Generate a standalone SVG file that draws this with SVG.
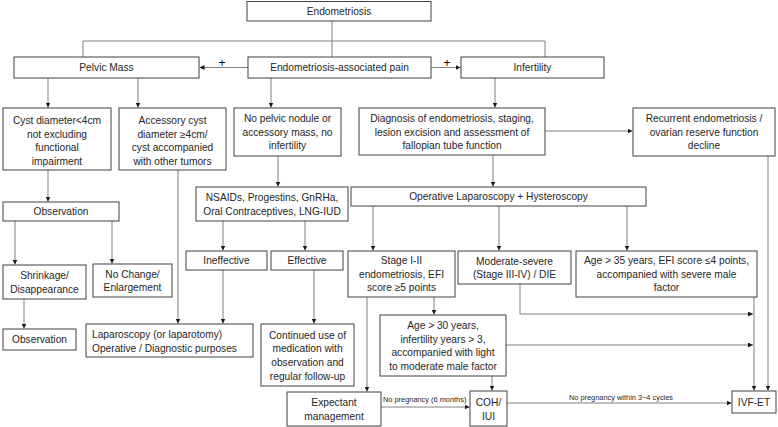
<svg xmlns="http://www.w3.org/2000/svg" width="778" height="427" viewBox="0 0 778 427">
<defs>
<marker id="ah" viewBox="0 0 8 8" refX="8" refY="4" markerWidth="5" markerHeight="5" markerUnits="userSpaceOnUse" orient="auto">
<path d="M0,0 L8,4 L0,8 Z" fill="#1a1a1a"/>
</marker>
<style>
.b{fill:#fff;stroke:#404040;stroke-width:1}
.t{font-family:"Liberation Sans",Arial,sans-serif;font-size:10.2px;fill:#262626;text-anchor:middle}
.l{text-anchor:start}
.p{font-family:"Liberation Sans",Arial,sans-serif;font-size:12px;fill:#000;text-anchor:middle}
.s{font-family:"Liberation Sans",Arial,sans-serif;font-size:7.4px;fill:#262626}
.c{fill:none;stroke:#808080;stroke-width:1}
.a{marker-end:url(#ah)}
</style>
</defs>
<rect width="778" height="427" fill="#fff"/>
<g id="connectors">
<path class="c" d="M332,21 V57"/>
<path class="c" d="M83,57 V41 H545 V57"/>
<path class="c a" d="M248,67.5 H199.5"/>
<path class="c a" d="M431,67.5 H460.5"/>
<path class="c a" d="M48,78 V107.5"/>
<path class="c a" d="M138,78 V107.5"/>
<path class="c a" d="M271,78 V107.5"/>
<path class="c a" d="M495,78 V107.5"/>
<path class="c a" d="M545,131 H632.5"/>
<path class="c a" d="M48,170 V201.5"/>
<path class="c a" d="M178,170 V323.5"/>
<path class="c a" d="M278,156 V186.5"/>
<path class="c a" d="M493,155 V186.5"/>
<path class="c a" d="M15,221 V264.5"/>
<path class="c a" d="M112,221 V263.5"/>
<path class="c a" d="M223,221 V250.5"/>
<path class="c a" d="M305,221 V250.5"/>
<path class="c a" d="M373,206 V250.5"/>
<path class="c a" d="M499,206 V250.5"/>
<path class="c a" d="M627,206 V250.5"/>
<path class="c a" d="M768,156 V390.5"/>
<path class="c a" d="M24,299 V328.5"/>
<path class="c a" d="M223,270 V323.5"/>
<path class="c a" d="M314,270 V323.5"/>
<path class="c a" d="M367,297 V391.5"/>
<path class="c a" d="M434,297 V314.5"/>
<path class="c a" d="M520,284 V314 H753"/>
<path class="c a" d="M754,297 V390.5"/>
<path class="c a" d="M506,345 H753"/>
<path class="c a" d="M492,376 V390.5"/>
<path class="c a" d="M381,407 H469.5"/>
<path class="c a" d="M507,403 H731.5"/>
<text class="p" x="222" y="67">+</text>
<text class="p" x="447" y="67">+</text>
<text class="s" x="383" y="401.5">No pregnancy  (6 months)</text>
<text class="s" x="621" y="399.5" text-anchor="middle">No pregnancy within 3~4 cycles</text>
</g>
<g id="endometriosis"><rect class="b" x="247" y="1.5" width="184" height="19.5"/><text class="t" x="339" y="15">Endometriosis</text></g>
<g id="pelvic-mass"><rect class="b" x="14" y="57" width="185" height="21"/><text class="t" x="106.5" y="71">Pelvic Mass</text></g>
<g id="pain"><rect class="b" x="248" y="57" width="183" height="21"/><text class="t" x="339.5" y="71">Endometriosis-associated pain</text></g>
<g id="infertility"><rect class="b" x="461" y="57" width="143" height="21"/><text class="t" x="532.5" y="71">Infertility</text></g>
<g id="cyst-small"><rect class="b" x="3" y="108" width="108" height="62"/><text class="t" x="57" y="124">Cyst diameter&lt;4cm</text><text class="t" x="57" y="137.5">not excluding</text><text class="t" x="57" y="151">functional</text><text class="t" x="57" y="164.5">impairment</text></g>
<g id="cyst-large"><rect class="b" x="119" y="108" width="107" height="62"/><text class="t" x="172.5" y="124">Accessory cyst</text><text class="t" x="172.5" y="137.5">diameter ≥4cm/</text><text class="t" x="172.5" y="151">cyst accompanied</text><text class="t" x="172.5" y="164.5">with other tumors</text></g>
<g id="no-nodule"><rect class="b" x="234" y="108" width="107" height="48"/><text class="t" x="287.5" y="122">No pelvic nodule or</text><text class="t" x="287.5" y="135.5">accessory mass, no</text><text class="t" x="287.5" y="149">infertility</text></g>
<g id="diagnosis"><rect class="b" x="359" y="108" width="186" height="47"/><text class="t" x="452" y="122">Diagnosis of endometriosis, staging,</text><text class="t" x="452" y="135.5">lesion excision and assessment of</text><text class="t" x="452" y="149">fallopian tube function</text></g>
<g id="recurrent"><rect class="b" x="633" y="108" width="142" height="48"/><text class="t" x="704" y="122">Recurrent endometriosis /</text><text class="t" x="704" y="135.5">ovarian reserve function</text><text class="t" x="704" y="149">decline</text></g>
<g id="observation"><rect class="b" x="3" y="202" width="116" height="19"/><text class="t" x="61" y="215">Observation</text></g>
<g id="medication"><rect class="b" x="196" y="187" width="152" height="34"/><text class="t" x="272" y="201">NSAIDs, Progestins, GnRHa,</text><text class="t" x="272" y="215">Oral Contraceptives, LNG-IUD</text></g>
<g id="operative"><rect class="b" x="351" y="187" width="295" height="19"/><text class="t" x="498.5" y="200">Operative Laparoscopy + Hysteroscopy</text></g>
<g id="shrinkage"><rect class="b" x="3" y="265" width="83" height="34"/><text class="t" x="44.5" y="279">Shrinkage/</text><text class="t" x="44.5" y="292.5">Disappearance</text></g>
<g id="no-change"><rect class="b" x="93" y="264" width="79" height="33"/><text class="t" x="132.5" y="277.5">No Change/</text><text class="t" x="132.5" y="291">Enlargement</text></g>
<g id="ineffective"><rect class="b" x="186" y="251" width="81" height="19"/><text class="t" x="226.5" y="264">Ineffective</text></g>
<g id="effective"><rect class="b" x="271" y="251" width="72" height="19"/><text class="t" x="307" y="264">Effective</text></g>
<g id="stage-1-2"><rect class="b" x="348" y="251" width="107" height="46"/><text class="t" x="401.5" y="264">Stage I-II</text><text class="t" x="401.5" y="277.5">endometriosis, EFI</text><text class="t" x="401.5" y="291">score ≥5 points</text></g>
<g id="moderate-severe"><rect class="b" x="458" y="251" width="113" height="33"/><text class="t" x="514.5" y="264.5">Moderate-severe</text><text class="t" x="514.5" y="278">(Stage III-IV) / DIE</text></g>
<g id="age-35"><rect class="b" x="576" y="251" width="181" height="46"/><text class="t" x="666.5" y="264">Age &gt; 35 years, EFI score ≤4 points,</text><text class="t" x="666.5" y="277.5">accompanied with severe male</text><text class="t" x="666.5" y="291">factor</text></g>
<g id="observation-2"><rect class="b" x="3" y="329" width="73" height="21"/><text class="t" x="39.5" y="343">Observation</text></g>
<g id="laparoscopy"><rect class="b" x="86" y="324" width="167" height="33"/><text class="t l" x="92" y="337.5">Laparoscopy (or laparotomy)</text><text class="t l" x="92" y="351.5">Operative / Diagnostic purposes</text></g>
<g id="continued"><rect class="b" x="261" y="324" width="93" height="62"/><text class="t" x="307.5" y="338.5">Continued use of</text><text class="t" x="307.5" y="352">medication with</text><text class="t" x="307.5" y="366">observation and</text><text class="t" x="307.5" y="379.5">regular follow-up</text></g>
<g id="age-30"><rect class="b" x="380" y="315" width="126" height="61"/><text class="t" x="443" y="329">Age &gt; 30 years,</text><text class="t" x="443" y="342.5">infertility years &gt; 3,</text><text class="t" x="443" y="356">accompanied with light</text><text class="t" x="443" y="369.5">to moderate male factor</text></g>
<g id="expectant"><rect class="b" x="287" y="392" width="94" height="34"/><text class="t" x="334" y="405.5">Expectant</text><text class="t" x="334" y="419.5">management</text></g>
<g id="coh-iui"><rect class="b" x="470" y="391" width="37" height="35"/><text class="t" x="488.5" y="405.5">COH/</text><text class="t" x="488.5" y="419.5">IUI</text></g>
<g id="ivf-et"><rect class="b" x="732" y="391" width="44" height="22"/><text class="t" x="754" y="405.5">IVF-ET</text></g>
</svg>
